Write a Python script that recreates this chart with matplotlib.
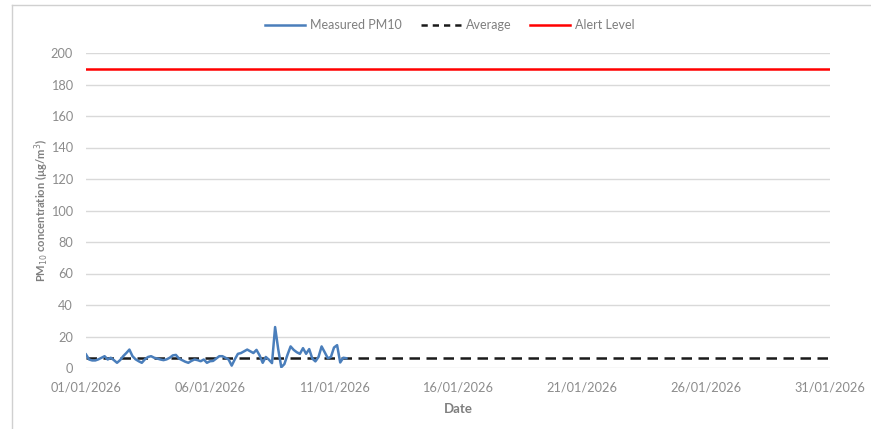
import matplotlib
matplotlib.use("Agg")
import matplotlib.pyplot as plt
import matplotlib.dates as mdates
import numpy as np
import pandas as pd
from matplotlib.lines import Line2D

# ---- data ----
start_time = "2026-01-01 00:00"
step_hours = 3
pm10 = [8.6, 5.4, 4.8, 4.8, 5.5, 6.5, 7.5, 5.4,
        6.5, 5.0, 3.3, 5.0, 7.5, 9.5, 11.7, 7.5,
        5.5, 4.3, 3.3, 5.5, 7.0, 7.5, 6.5, 6.0,
        5.4, 5.0, 5.5, 6.5, 8.0, 8.3, 6.0, 5.0,
        4.0, 3.3, 4.5, 5.4, 5.0, 4.3, 5.4, 3.3,
        4.3, 4.5, 6.0, 7.5, 7.5, 6.5, 5.4, 1.5,
        5.5, 9.0, 9.5, 10.6, 11.7, 10.6, 9.5, 11.5,
        8.0, 3.3, 7.0, 5.3, 3.1, 26.0, 12.0, 0.5,
        2.5, 8.4, 13.7, 11.5, 10.0, 9.0, 12.6, 9.0,
        12.0, 6.0, 4.2, 7.0, 13.7, 10.0, 6.2, 7.0,
        13.0, 14.5, 3.5, 6.5, 6.2]
average_value = 6.5
alert_level = 190
period_start = "2026-01-01"
period_end = "2026-01-31"
tick_dates = ["2026-01-01", "2026-01-06", "2026-01-11", "2026-01-16",
              "2026-01-21", "2026-01-26", "2026-01-31"]
y_ticks = [0, 20, 40, 60, 80, 100, 120, 140, 160, 180, 200]
series_names = ["Measured PM10", "Average", "Alert Level"]

times = pd.date_range(start_time, periods=len(pm10), freq=f"{step_hours}h")
t0 = pd.Timestamp(period_start)
t1 = pd.Timestamp(period_end)

# ---- figure ----
plt.rcParams['font.family'] = ['Lato', 'DejaVu Sans']
fig = plt.figure(figsize=(8.71, 4.29), dpi=100)
ax = fig.add_axes([86/871, 1-368/429, (830-86)/871, (368-53)/429])

tick_col = "#8C8C8C"
label_col = "#7F7F7F"
grid_col = "#D9D9D9"

for v in y_ticks:
    ax.axhline(v, color=grid_col, lw=1.0, zorder=1)

blue = "#4A7EBB"
ax.plot(times, pm10, color=blue, lw=1.8, zorder=4)
ax.plot([t0, t1], [average_value, average_value], color="#1a1a1a",
        lw=1.8, ls=(0, (4.2, 2.6)), zorder=3)
ax.plot([t0, t1], [alert_level, alert_level], color="#FF0000", lw=1.8, zorder=3)

ax.set_xlim(t0, t1)
ax.set_ylim(0, 200)
ax.set_yticks(y_ticks)
ax.set_xticks([pd.Timestamp(d) for d in tick_dates])
ax.xaxis.set_major_formatter(mdates.DateFormatter("%d/%m/%Y"))
for s in ax.spines.values():
    s.set_visible(False)
ax.tick_params(axis='both', length=0, colors=tick_col, labelsize=9.2)
ax.tick_params(axis='y', pad=9.5)
ax.tick_params(axis='x', pad=9.5)

ax.set_xlabel("Date", color=label_col, fontweight='bold', fontsize=9.5, labelpad=7)
ax.set_ylabel(r"PM$_{10}$ concentration (µg/m$^{3}$)", color=label_col,
              fontweight='bold', fontsize=8, labelpad=-0.5)

handles = [Line2D([], [], color=blue, lw=1.8),
           Line2D([], [], color="#1a1a1a", lw=1.8, ls=(0, (2.5, 2.0))),
           Line2D([], [], color="#FF0000", lw=1.8)]
leg = fig.legend(handles, series_names, loc='center', bbox_to_anchor=(450/871, 1-25/429),
                 ncol=3, frameon=False, fontsize=9, handlelength=3.2,
                 columnspacing=1.5, handletextpad=0.4)
for t in leg.get_texts():
    t.set_color(label_col)

# chart area border (partially visible)
fig.add_artist(Line2D([12/871, 1], [1-5/429, 1-5/429], color="#D0D0D0", lw=1.0))
fig.add_artist(Line2D([12/871, 12/871], [0, 1-5/429], color="#D0D0D0", lw=1.0))

fig.savefig("out.png", dpi=100)
